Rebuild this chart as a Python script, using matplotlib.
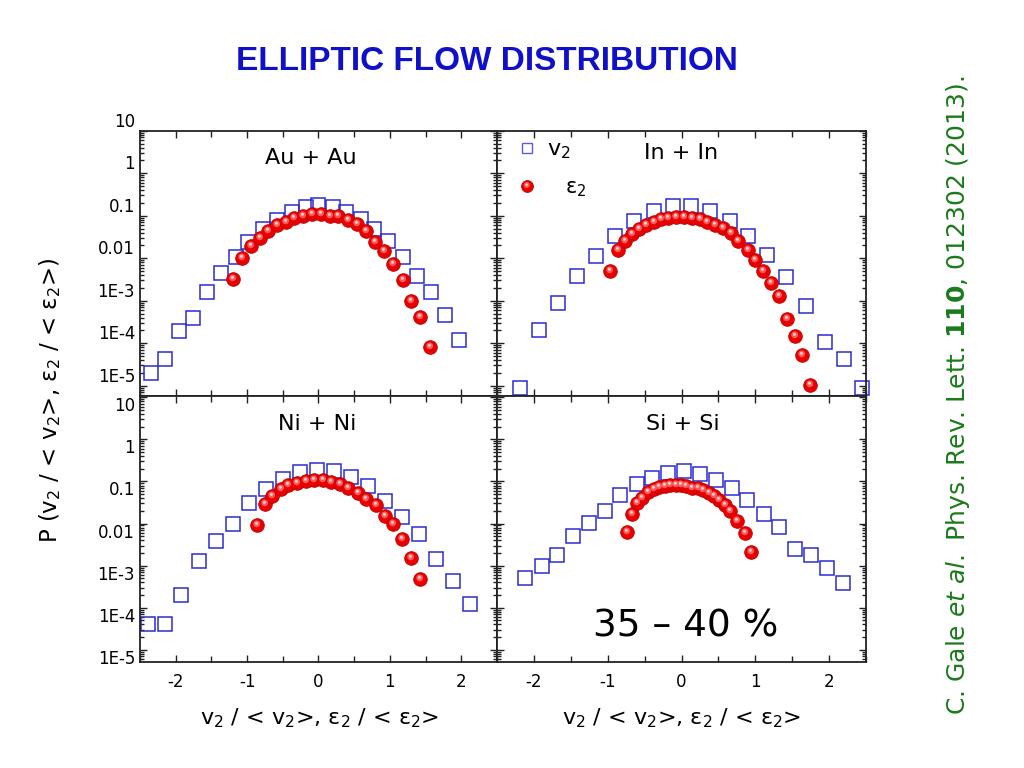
import numpy as np
import matplotlib
matplotlib.use("Agg")
import matplotlib.pyplot as plt
from matplotlib.markers import MarkerStyle
from matplotlib.transforms import Affine2D
from matplotlib.ticker import MultipleLocator, LogLocator, NullFormatter

# ---- data ----
# Au + Au
au_v2_x = [-2.35, -2.15, -1.96, -1.76, -1.56, -1.36, -1.16, -0.98, -0.77, -0.58, -0.375, -0.17,
           0.0, 0.2, 0.39, 0.59, 0.78, 0.98, 1.18, 1.375, 1.57, 1.77, 1.97]
au_v2_y = [2.0e-5, 4.2e-5, 1.9e-4, 4.0e-4, 1.6e-3, 4.5e-3, 0.0105, 0.024, 0.049, 0.080, 0.12, 0.158,
           0.18, 0.158, 0.12, 0.085, 0.049, 0.025, 0.0105, 0.0039, 0.0016, 4.6e-4, 1.2e-4]
au_e2_x = [-1.20, -1.07, -0.94, -0.82, -0.70, -0.58, -0.46, -0.34, -0.21, -0.09, 0.03, 0.16,
           0.28, 0.41, 0.54, 0.66, 0.79, 0.92, 1.05, 1.18, 1.30, 1.42, 1.56]
au_e2_y = [3.3e-3, 0.010, 0.019, 0.030, 0.043, 0.059, 0.073, 0.089, 0.10, 0.107, 0.107, 0.10,
           0.096, 0.081, 0.064, 0.043, 0.024, 0.0146, 0.0074, 0.0031, 1.0e-3, 4.1e-4, 8.1e-5]

# In + In
in_v2_x = [-2.19, -1.93, -1.67, -1.415, -1.155, -0.90, -0.64, -0.38, -0.12, 0.13, 0.39, 0.65,
           0.90, 1.16, 1.42, 1.68, 1.94, 2.20, 2.45]
in_v2_y = [8.7e-6, 2.0e-4, 8.7e-4, 3.8e-3, 0.011, 0.034, 0.076, 0.128, 0.165, 0.165, 0.128, 0.076,
           0.033, 0.012, 0.0036, 7.7e-4, 1.1e-4, 4.3e-5, 8.7e-6]
in_e2_x = [-0.963, -0.863, -0.77, -0.675, -0.58, -0.48, -0.38, -0.28, -0.18, -0.073, 0.032, 0.14,
           0.247, 0.35, 0.456, 0.56, 0.667, 0.77, 0.895, 1.0, 1.10, 1.21, 1.32, 1.425, 1.53, 1.63, 1.735]
in_e2_y = [5.1e-3, 0.016, 0.026, 0.037, 0.049, 0.062, 0.073, 0.083, 0.089, 0.092, 0.092, 0.089,
           0.083, 0.073, 0.062, 0.051, 0.039, 0.026, 0.016, 0.0093, 0.0049, 0.0026, 0.0013,
           3.7e-4, 1.46e-4, 5.3e-5, 1.05e-5]

# Ni + Ni
ni_v2_x = [-2.39, -2.15, -1.92, -1.68, -1.44, -1.20, -0.97, -0.73, -0.50, -0.26, -0.02, 0.22,
           0.46, 0.69, 0.93, 1.17, 1.41, 1.65, 1.88, 2.12]
ni_v2_y = [4.1e-5, 4.1e-5, 2.0e-4, 1.26e-3, 3.8e-3, 0.0100, 0.030, 0.067, 0.116, 0.167, 0.19, 0.176,
           0.127, 0.077, 0.035, 0.014, 0.0055, 1.4e-3, 4.3e-4, 1.25e-4]
ni_e2_x = [-0.865, -0.755, -0.65, -0.53, -0.42, -0.30, -0.18, -0.056, 0.06, 0.18, 0.30, 0.42,
           0.55, 0.66, 0.80, 0.93, 1.05, 1.17, 1.29, 1.42]
ni_e2_y = [0.0090, 0.029, 0.046, 0.065, 0.082, 0.093, 0.100, 0.106, 0.106, 0.098, 0.085, 0.068,
           0.054, 0.039, 0.028, 0.0155, 0.0095, 0.0044, 1.5e-3, 4.9e-4]

# Si + Si
si_v2_x = [-2.12, -1.895, -1.685, -1.475, -1.255, -1.04, -0.83, -0.61, -0.40, -0.18, 0.03, 0.25,
           0.47, 0.68, 0.89, 1.11, 1.32, 1.54, 1.76, 1.97, 2.19]
si_v2_y = [5.2e-4, 1.0e-3, 1.8e-3, 5.1e-3, 0.0105, 0.0195, 0.047, 0.085, 0.122, 0.161, 0.176, 0.147,
           0.111, 0.068, 0.037, 0.017, 0.0083, 2.5e-3, 1.8e-3, 8.9e-4, 3.9e-4]
si_e2_x = [-0.745, -0.667, -0.60, -0.53, -0.45, -0.38, -0.305, -0.23, -0.155, -0.08, -0.01, 0.064,
           0.147, 0.22, 0.29, 0.366, 0.434, 0.507, 0.59, 0.66, 0.745, 0.86, 0.945]
si_e2_y = [6.3e-3, 0.017, 0.030, 0.041, 0.057, 0.065, 0.074, 0.079, 0.082, 0.083, 0.082, 0.077,
           0.068, 0.068, 0.062, 0.052, 0.045, 0.037, 0.027, 0.0195, 0.0118, 0.0061, 2.1e-3]

systems = ["Au + Au", "In + In", "Ni + Ni", "Si + Si"]
ytick_vals = [1e-5, 1e-4, 1e-3, 1e-2, 0.1, 1, 10]
ytick_labels = ["1E-5", "1E-4", "1E-3", "0.01", "0.1", "1", "10"]
xtick_vals = [-2, -1, 0, 1, 2]

plt.rcParams['font.family'] = ['DejaVu Sans']
plt.rcParams['mathtext.fontset'] = 'dejavusans'

BLUE = '#2b2bd2'
RED = '#e80000'

fig = plt.figure(figsize=(10.24, 7.68), dpi=100)

rects = [
    [0.1367, 0.4844, 0.3486, 0.3454],
    [0.4854, 0.4844, 0.3604, 0.3454],
    [0.1367, 0.1380, 0.3486, 0.3464],
    [0.4854, 0.1380, 0.3604, 0.3464],
]
data = [
    (au_v2_x, au_v2_y, au_e2_x, au_e2_y),
    (in_v2_x, in_v2_y, in_e2_x, in_e2_y),
    (ni_v2_x, ni_v2_y, ni_e2_x, ni_e2_y),
    (si_v2_x, si_v2_y, si_e2_x, si_e2_y),
]
label_pos = [(0.479, 0.898), (0.499, 0.917), (0.496, 0.894), (0.503, 0.894)]

# shiny ball markers
hl1 = MarkerStyle('o', transform=Affine2D().scale(0.5).translate(-0.06, 0.12))
hl2 = MarkerStyle('o', transform=Affine2D().scale(0.22).translate(-0.08, 0.16))


def sphere(ax, x, y, ms=9.8, **kw):
    ax.plot(x, y, 'o', ms=ms, mfc=RED, mec='#c00000', mew=0.6, ls='none', **kw)
    ax.plot(x, y, ls='none', marker=hl1, ms=ms, mfc='#ff5a5a', mec='none', **kw)
    ax.plot(x, y, ls='none', marker=hl2, ms=ms, mfc='#ffd0d0', mec='none', **kw)


axes = []
for i, r in enumerate(rects):
    ax = fig.add_axes(r)
    axes.append(ax)
    vx, vy, ex, ey = data[i]
    ax.plot(vx, vy, 's', ms=9.8, mfc='none', mec=BLUE, mew=1.1, ls='none', clip_on=False)
    sphere(ax, ex, ey, clip_on=False)
    ax.set_yscale('log')
    ax.set_xlim(-2.5, 2.5)
    if i < 2:
        ax.set_ylim(10 ** -5.24, 10)
    else:
        ax.set_ylim(10 ** -5.29, 10 ** 1.03)
    ax.set_yticks(ytick_vals)
    ax.yaxis.set_minor_locator(LogLocator(base=10, subs=np.arange(2, 10), numticks=20))
    ax.yaxis.set_minor_formatter(NullFormatter())
    ax.xaxis.set_major_locator(MultipleLocator(1))
    ax.xaxis.set_minor_locator(MultipleLocator(0.5))
    ax.tick_params(which='both', direction='in', top=True, right=True, width=1.0, color='#222222')
    ax.tick_params(which='major', length=5)
    ax.tick_params(which='minor', length=3)
    ax.tick_params(axis='x', which='minor', length=4.5)
    for s in ax.spines.values():
        s.set_linewidth(1.3)
        s.set_color('#222222')
    if i % 2 == 0:
        ax.set_yticklabels(ytick_labels, fontsize=12)
        for t in ax.get_yticklabels():
            t.set_va('bottom' if i < 2 else 'top')
    else:
        ax.set_yticklabels([])
    if i >= 2:
        ax.set_xticks(xtick_vals)
        ax.set_xticklabels([str(v) for v in xtick_vals], fontsize=12)
        ax.tick_params(axis='x', pad=8)
    else:
        ax.set_xticklabels([])
    lx, ly = label_pos[i]
    ax.text(lx, ly, systems[i], transform=ax.transAxes, ha='center', va='center', fontsize=16)

# legend in the In + In panel
axl = axes[1]
axl.plot([0.081], [0.936], 's', ms=7, mfc='none', mec='#5a5ae0', mew=1.0, transform=axl.transAxes, clip_on=False)
sphere(axl, [0.081], [0.792], ms=8.5, transform=axl.transAxes, clip_on=False)
axl.text(0.135, 0.925, r"v$_2$", transform=axl.transAxes, fontsize=16, va='center')
axl.text(0.185, 0.78, r"ε$_2$", transform=axl.transAxes, fontsize=15, va='center')

axes[3].text(0.51, 0.135, "35 \u2013 40 %", transform=axes[3].transAxes, ha='center', va='center', fontsize=27)

fig.text(487 / 1024, 1 - 62 / 768, "ELLIPTIC FLOW DISTRIBUTION", ha='center', va='center',
         fontsize=24, fontweight='bold', color='#1010c8',
         family=['Liberation Sans', 'DejaVu Sans'])
fig.text(50 / 1024, 1 - 400 / 768, r"P (v$_2$ / < v$_2$>, ε$_2$ / < ε$_2$>)", rotation=90,
         ha='center', va='center', fontsize=16.5)
for cx in (320, 682):
    fig.text(cx / 1024, 1 - 718 / 768, r"v$_2$ / < v$_2$>, ε$_2$ / < ε$_2$>", ha='center', va='center',
             fontsize=16)
fig.text(958 / 1024, 1 - 395 / 768,
         r"C. Gale $\mathit{et\ al.}$ Phys. Rev. Lett. $\mathbf{110}$, 012302 (2013).",
         rotation=90, ha='center', va='center', fontsize=18, color='#1b7a1b')

fig.savefig("out.png", dpi=100)
